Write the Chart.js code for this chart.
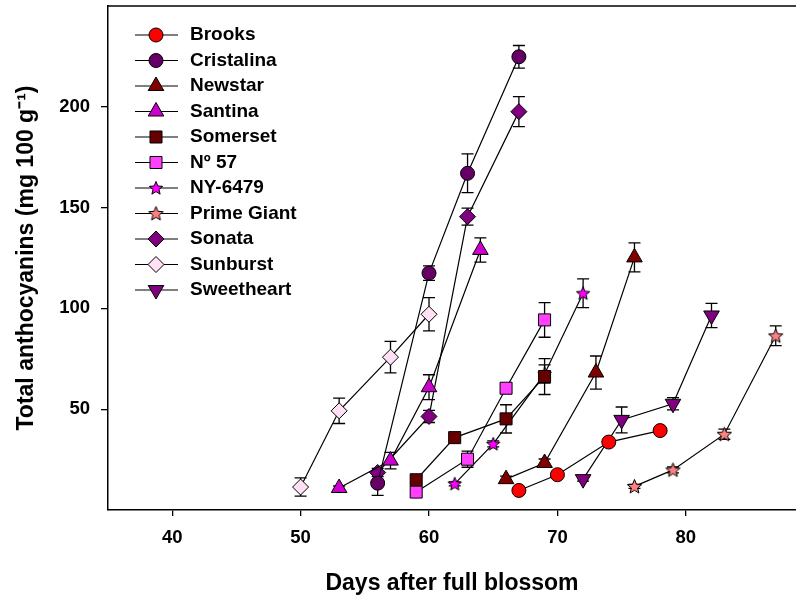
<!DOCTYPE html>
<html><head><meta charset="utf-8">
<script src="https://cdn.jsdelivr.net/npm/chart.js@4.4.1/dist/chart.umd.min.js"></script>
<style>html,body{margin:0;padding:0;background:#fff;overflow:hidden}</style>
</head><body>
<canvas id="c" width="796" height="595"></canvas>
<script>
// ---- data ----
const cultivars = ['Brooks','Cristalina','Newstar','Santina','Somerset','N\u00BA 57','NY-6479','Prime Giant','Sonata','Sunburst','Sweetheart'];
const xTicks = [40,50,60,70,80];
const yTicks = [50,100,150,200];

const brooksDays = [67,70,74,78];        const brooksVals = [9.7,17.5,33.7,39.4];      const brooksSE = [1,1.2,1.5,1.5];
const cristalinaDays = [56,60,63,67];    const cristalinaVals = [13.3,117.5,167,224.8]; const cristalinaSE = [6,3.6,9.6,5.6];
const newstarDays = [66,69,73,76];       const newstarVals = [15.3,23.3,68.2,125.3];   const newstarSE = [1.5,2,8.2,7.2];
const santinaDays = [53,57,60,64];       const santinaVals = [10.9,24.5,60.9,129];     const santinaSE = [1,4.1,6.2,6];
const somersetDays = [59,62,66,69];      const somersetVals = [15,35.9,45.2,66.2];     const somersetSE = [1.5,1.5,7,8.9];
const n57Days = [59,63,66,69];           const n57Vals = [8.9,25.2,60.4,94.3];         const n57SE = [1.5,4,2,8.6];
const ny6479Days = [62,65,69,72];        const ny6479Vals = [13,32.8,67.5,107.5];      const ny6479SE = [1,1.5,4.5,7.1];
const primeGiantDays = [76,79,83,87];    const primeGiantVals = [11.7,19.9,37.6,86.4]; const primeGiantSE = [1,1.5,2.5,4.9];
const sonataDays = [56,60,63,67];        const sonataVals = [18.6,46.4,145.5,197.6];   const sonataSE = [2,3,4.2,7.4];
const sunburstDays = [50,53,57,60];      const sunburstVals = [11.4,49.2,75.8,97.1];   const sunburstSE = [4.5,6.3,7.8,8.2];
const sweetheartDays = [72,75,79,82];    const sweetheartVals = [15.3,44.7,52.7,96.5]; const sweetheartSE = [1,6.4,3,6];

const allDays = [brooksDays,cristalinaDays,newstarDays,santinaDays,somersetDays,n57Days,ny6479Days,primeGiantDays,sonataDays,sunburstDays,sweetheartDays];
const allVals = [brooksVals,cristalinaVals,newstarVals,santinaVals,somersetVals,n57Vals,ny6479Vals,primeGiantVals,sonataVals,sunburstVals,sweetheartVals];
const allSE   = [brooksSE,cristalinaSE,newstarSE,santinaSE,somersetSE,n57SE,ny6479SE,primeGiantSE,sonataSE,sunburstSE,sweetheartSE];

// ---- styles ----
function starCanvas(fill, R, r) {
  const s = Math.ceil(R * 2 + 4);
  const c = document.createElement('canvas'); c.width = s; c.height = s;
  const g = c.getContext('2d');
  g.translate(s / 2, s / 2 + 0.5);
  g.beginPath();
  for (let i = 0; i < 10; i++) {
    const rad = (i % 2) ? r : R; const a = -Math.PI / 2 + i * Math.PI / 5;
    g.lineTo(rad * Math.cos(a), rad * Math.sin(a));
  }
  g.closePath(); g.fillStyle = fill; g.fill(); g.lineWidth = 1; g.strokeStyle = '#000'; g.stroke();
  return c;
}
const styles = [
  {color:'#ff0000', style:'circle', radius:7, rot:0},
  {color:'#660066', style:'circle', radius:7, rot:0},
  {color:'#800000', style:'triangle', radius:9, rot:0},
  {color:'#cc00cc', style:'triangle', radius:9, rot:0},
  {color:'#660000', style:'rect', radius:8.5, rot:0},
  {color:'#ff40ff', style:'rect', radius:8.5, rot:0},
  {color:'#ff00ff', style:starCanvas('#ff00ff', 7, 3.1), radius:7, rot:0},
  {color:'#ff8080', style:starCanvas('#ff8080', 7.5, 3.3), radius:7, rot:0},
  {color:'#800080', style:'rectRot', radius:8, rot:0},
  {color:'#ffe0f5', style:'rectRot', radius:8, rot:0},
  {color:'#800080', style:'triangle', radius:9, rot:180}
];

const FONT = "'Liberation Sans', Arial, sans-serif";

const datasets = cultivars.map((name, i) => ({
  label: name,
  data: allDays[i].map((d, k) => ({x: d, y: allVals[i][k]})),
  borderColor: '#000', borderWidth: 1.2,
  backgroundColor: styles[i].color,
  pointBackgroundColor: styles[i].color,
  pointBorderColor: '#000', pointBorderWidth: 1,
  pointStyle: styles[i].style, pointRadius: styles[i].radius, pointRotation: styles[i].rot,
  fill: false, tension: 0
}));

const errorBars = {
  id: 'errorBars',
  beforeDatasetsDraw(chart) {
    const {ctx, scales: {x, y}} = chart;
    ctx.save(); ctx.strokeStyle = '#000'; ctx.lineWidth = 1.3;
    allSE.forEach((se, i) => {
      se.forEach((e, k) => {
        const px = x.getPixelForValue(allDays[i][k]);
        const top = y.getPixelForValue(allVals[i][k] + e);
        const bot = y.getPixelForValue(allVals[i][k] - e);
        ctx.beginPath();
        ctx.moveTo(px, top); ctx.lineTo(px, bot);
        ctx.moveTo(px - 6, top); ctx.lineTo(px + 6, top);
        ctx.moveTo(px - 6, bot); ctx.lineTo(px + 6, bot);
        ctx.stroke();
      });
    });
    ctx.restore();
  }
};

const frameAndLegend = {
  id: 'frameAndLegend',
  afterDraw(chart) {
    const {ctx, chartArea: a} = chart;
    ctx.save();
    ctx.strokeStyle = '#000'; ctx.lineWidth = 1.5;
    ctx.beginPath(); ctx.moveTo(a.left, a.top); ctx.lineTo(a.right, a.top); ctx.stroke();
    // legend
    ctx.font = 'bold 19px ' + FONT; ctx.textBaseline = 'middle'; ctx.textAlign = 'left';
    chart.data.datasets.forEach((ds, i) => {
      const yy = 35 + i * 25.5;
      ctx.strokeStyle = '#000'; ctx.lineWidth = 1.2;
      ctx.beginPath(); ctx.moveTo(135, yy); ctx.lineTo(178, yy); ctx.stroke();
      const st = styles[i];
      if (typeof st.style !== 'string') {
        ctx.drawImage(st.style, 156 - st.style.width / 2, yy - st.style.height / 2);
      } else {
        ctx.fillStyle = st.color; ctx.strokeStyle = '#000'; ctx.lineWidth = 1;
        Chart.helpers.drawPoint(ctx, {pointStyle: st.style, radius: st.radius, rotation: st.rot, borderWidth: 1}, 156, yy);
      }
      ctx.fillStyle = '#000';
      ctx.fillText(ds.label, 190, yy);
    });
    ctx.restore();
  }
};

function noPad(s) { s.paddingTop = 0; s.paddingBottom = 0; s.paddingLeft = 0; s.paddingRight = 0; }

new Chart(document.getElementById('c'), {
  type: 'line',
  data: {datasets},
  options: {
    responsive: false, animation: false, devicePixelRatio: 1,
    layout: {autoPadding: false, padding: {top: 6, right: 0, left: 0, bottom: 0}},
    plugins: {legend: {display: false}, tooltip: {enabled: false}},
    scales: {
      x: {
        type: 'linear', min: 35, max: 88.58,
        afterBuildTicks: s => { s.ticks = xTicks.map(v => ({value: v})); },
        afterFit: s => { s.height = 85; noPad(s); },
        grid: {display: true, drawOnChartArea: false, drawTicks: true, tickLength: 6, color: '#000', lineWidth: 1.3},
        border: {display: true, color: '#000', width: 1.5},
        ticks: {color: '#000', font: {family: FONT, size: 18.5, weight: 'bold'}, padding: 11, maxRotation: 0},
        title: {display: true, text: 'Days after full blossom', color: '#000', font: {family: FONT, size: 23, weight: 'bold', lineHeight: 1}, padding: {top: 0, bottom: 0}}
      },
      y: {
        type: 'linear', min: 0, max: 250,
        afterBuildTicks: s => { s.ticks = yTicks.map(v => ({value: v})); },
        afterFit: s => { s.width = 108; noPad(s); },
        grid: {display: true, drawOnChartArea: false, drawTicks: true, tickLength: 7, color: '#000', lineWidth: 1.3},
        border: {display: true, color: '#000', width: 1.5},
        ticks: {color: '#000', font: {family: FONT, size: 18.5, weight: 'bold'}, padding: 11},
        title: {display: true, text: 'Total anthocyanins (mg 100 g\u207B\u00B9)', color: '#000', font: {family: FONT, size: 23, weight: 'bold', lineHeight: 1.2}, padding: {top: 13, bottom: 0}}
      }
    }
  },
  plugins: [errorBars, frameAndLegend]
});
</script>
</body></html>
